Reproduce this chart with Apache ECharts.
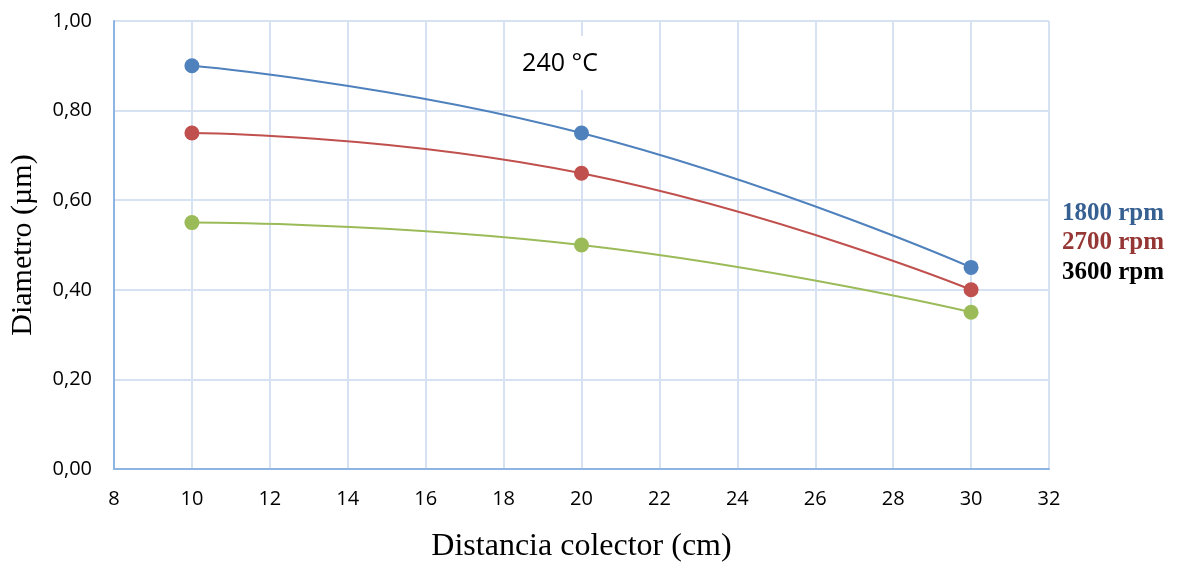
<!DOCTYPE html>
<html><head><meta charset="utf-8">
<script src="https://cdn.jsdelivr.net/npm/echarts@6/dist/echarts.min.js"></script>
<style>html,body{margin:0;padding:0;background:#fff}#c{width:1189px;height:564px}</style>
</head><body><div id="c"></div>
<script>
const distances = [10, 20, 30];
const rpm1800 = [0.90, 0.75, 0.45];
const rpm2700 = [0.75, 0.66, 0.40];
const rpm3600 = [0.55, 0.50, 0.35];
const seriesNames = ['1800 rpm', '2700 rpm', '3600 rpm'];
const lineColors = ['#4f81bd', '#c0504d', '#9bbb59'];
const legendColors = ['#376092', '#953735', '#000000'];
const titleText = '240 °C';
const xTitle = 'Distancia colector (cm)';
const yTitle = 'Diametro (µm)';

const chart = echarts.init(document.getElementById('c'));
const allValues = [rpm1800, rpm2700, rpm3600];
const mk = (i) => ({
  name: seriesNames[i], type: 'line', smooth: 0.5,
  data: distances.map((d, k) => [d, allValues[i][k]]),
  symbol: 'circle', symbolSize: 15,
  lineStyle: { color: lineColors[i], width: 2 },
  itemStyle: { color: lineColors[i] },
  z: 3 - i
});
chart.setOption({
  animation: false,
  backgroundColor: '#fff',
  grid: { left: 114, right: 140, top: 21, bottom: 95, containLabel: false, outerBoundsMode: 'none' },
  title: {
    text: titleText, left: 548, top: 36, textAlign: 'center',
    backgroundColor: '#fff', padding: [12, 12, 10, 12],
    textStyle: { fontFamily: 'Open Sans', fontSize: 25, fontWeight: 'normal', color: '#000', lineHeight: 32 }
  },
  xAxis: {
    type: 'value', min: 8, max: 32, interval: 2,
    name: xTitle, nameLocation: 'middle', nameGap: 62,
    nameTextStyle: { fontFamily: 'Liberation Serif', fontSize: 32, color: '#000' },
    axisLine: { show: true, lineStyle: { color: '#8eb4e3', width: 2 } },
    axisTick: { show: false },
    axisLabel: { fontFamily: 'Open Sans', fontSize: 20, color: '#000', margin: 20 },
    splitLine: { show: true, lineStyle: { color: '#d6e2f2', width: 2 } }
  },
  yAxis: {
    type: 'value', min: 0, max: 1, interval: 0.2,
    name: yTitle, nameLocation: 'middle', nameGap: 76,
    nameTextStyle: { fontFamily: 'Liberation Serif', fontSize: 30, color: '#000' },
    axisLine: { show: true, lineStyle: { color: '#8eb4e3', width: 2 } },
    axisTick: { show: false },
    axisLabel: { fontFamily: 'Open Sans', fontSize: 20, color: '#000', margin: 22,
      formatter: v => v.toFixed(2).replace('.', ',') },
    splitLine: { show: true, lineStyle: { color: '#d6e2f2', width: 2 } }
  },
  graphic: seriesNames.map((n, i) => ({
    type: 'text', left: 1062, top: 201 + i * 29.5, z: 10,
    style: { text: n, fill: legendColors[i], font: 'bold 25px "Liberation Serif"' }
  })),
  series: [mk(0), mk(1), mk(2)]
});
</script></body></html>
